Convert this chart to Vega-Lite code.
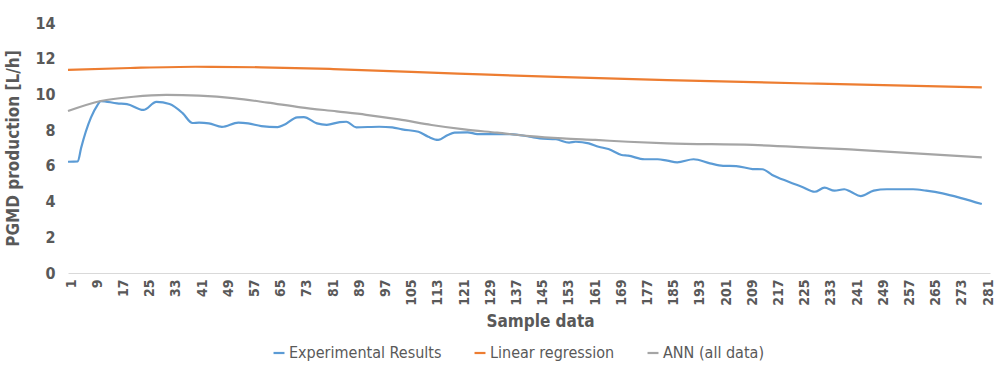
{
  "$schema": "https://vega.github.io/schema/vega-lite/v6.json",
  "width": 922,
  "height": 250,
  "autosize": {"type": "none"},
  "padding": {"left": 68, "top": 23, "right": 10, "bottom": 92},
  "background": "white",
  "config": {
    "view": {"stroke": null},
    "font": "Liberation Sans Narrow, DejaVu Sans Condensed, sans-serif"
  },
  "data": {
    "values": [
      {"s": 1, "v": 6.23, "series": "Experimental Results"},
      {"s": 4, "v": 6.25, "series": "Experimental Results"},
      {"s": 5, "v": 7.0, "series": "Experimental Results"},
      {"s": 8, "v": 8.7, "series": "Experimental Results"},
      {"s": 10, "v": 9.4, "series": "Experimental Results"},
      {"s": 11, "v": 9.63, "series": "Experimental Results"},
      {"s": 16, "v": 9.5, "series": "Experimental Results"},
      {"s": 19, "v": 9.46, "series": "Experimental Results"},
      {"s": 24, "v": 9.13, "series": "Experimental Results"},
      {"s": 28, "v": 9.58, "series": "Experimental Results"},
      {"s": 32, "v": 9.46, "series": "Experimental Results"},
      {"s": 36, "v": 8.95, "series": "Experimental Results"},
      {"s": 39, "v": 8.4, "series": "Experimental Results"},
      {"s": 41, "v": 8.42, "series": "Experimental Results"},
      {"s": 44, "v": 8.38, "series": "Experimental Results"},
      {"s": 48, "v": 8.18, "series": "Experimental Results"},
      {"s": 53, "v": 8.42, "series": "Experimental Results"},
      {"s": 56, "v": 8.38, "series": "Experimental Results"},
      {"s": 60, "v": 8.23, "series": "Experimental Results"},
      {"s": 65, "v": 8.17, "series": "Experimental Results"},
      {"s": 67, "v": 8.3, "series": "Experimental Results"},
      {"s": 71, "v": 8.72, "series": "Experimental Results"},
      {"s": 73, "v": 8.73, "series": "Experimental Results"},
      {"s": 77, "v": 8.38, "series": "Experimental Results"},
      {"s": 80, "v": 8.3, "series": "Experimental Results"},
      {"s": 84, "v": 8.45, "series": "Experimental Results"},
      {"s": 86, "v": 8.47, "series": "Experimental Results"},
      {"s": 89, "v": 8.16, "series": "Experimental Results"},
      {"s": 96, "v": 8.19, "series": "Experimental Results"},
      {"s": 100, "v": 8.16, "series": "Experimental Results"},
      {"s": 103, "v": 8.04, "series": "Experimental Results"},
      {"s": 108, "v": 7.91, "series": "Experimental Results"},
      {"s": 111, "v": 7.63, "series": "Experimental Results"},
      {"s": 114, "v": 7.45, "series": "Experimental Results"},
      {"s": 117, "v": 7.73, "series": "Experimental Results"},
      {"s": 119, "v": 7.86, "series": "Experimental Results"},
      {"s": 123, "v": 7.88, "series": "Experimental Results"},
      {"s": 126, "v": 7.78, "series": "Experimental Results"},
      {"s": 132, "v": 7.78, "series": "Experimental Results"},
      {"s": 136, "v": 7.78, "series": "Experimental Results"},
      {"s": 142, "v": 7.63, "series": "Experimental Results"},
      {"s": 145, "v": 7.54, "series": "Experimental Results"},
      {"s": 150, "v": 7.49, "series": "Experimental Results"},
      {"s": 154, "v": 7.3, "series": "Experimental Results"},
      {"s": 156, "v": 7.35, "series": "Experimental Results"},
      {"s": 160, "v": 7.26, "series": "Experimental Results"},
      {"s": 163, "v": 7.07, "series": "Experimental Results"},
      {"s": 166, "v": 6.94, "series": "Experimental Results"},
      {"s": 170, "v": 6.61, "series": "Experimental Results"},
      {"s": 172, "v": 6.57, "series": "Experimental Results"},
      {"s": 177, "v": 6.37, "series": "Experimental Results"},
      {"s": 181, "v": 6.37, "series": "Experimental Results"},
      {"s": 184, "v": 6.29, "series": "Experimental Results"},
      {"s": 187, "v": 6.2, "series": "Experimental Results"},
      {"s": 192, "v": 6.37, "series": "Experimental Results"},
      {"s": 197, "v": 6.14, "series": "Experimental Results"},
      {"s": 201, "v": 6.0, "series": "Experimental Results"},
      {"s": 205, "v": 5.99, "series": "Experimental Results"},
      {"s": 210, "v": 5.82, "series": "Experimental Results"},
      {"s": 213, "v": 5.81, "series": "Experimental Results"},
      {"s": 216, "v": 5.49, "series": "Experimental Results"},
      {"s": 221, "v": 5.11, "series": "Experimental Results"},
      {"s": 225, "v": 4.83, "series": "Experimental Results"},
      {"s": 229, "v": 4.55, "series": "Experimental Results"},
      {"s": 232, "v": 4.78, "series": "Experimental Results"},
      {"s": 235, "v": 4.61, "series": "Experimental Results"},
      {"s": 238, "v": 4.69, "series": "Experimental Results"},
      {"s": 240, "v": 4.55, "series": "Experimental Results"},
      {"s": 243, "v": 4.31, "series": "Experimental Results"},
      {"s": 247, "v": 4.61, "series": "Experimental Results"},
      {"s": 251, "v": 4.69, "series": "Experimental Results"},
      {"s": 259, "v": 4.69, "series": "Experimental Results"},
      {"s": 263, "v": 4.61, "series": "Experimental Results"},
      {"s": 268, "v": 4.46, "series": "Experimental Results"},
      {"s": 274, "v": 4.18, "series": "Experimental Results"},
      {"s": 280, "v": 3.86, "series": "Experimental Results"},
      {"s": 1, "v": 11.37, "series": "Linear regression"},
      {"s": 20, "v": 11.48, "series": "Linear regression"},
      {"s": 40, "v": 11.55, "series": "Linear regression"},
      {"s": 60, "v": 11.52, "series": "Linear regression"},
      {"s": 82, "v": 11.42, "series": "Linear regression"},
      {"s": 120, "v": 11.17, "series": "Linear regression"},
      {"s": 150, "v": 10.98, "series": "Linear regression"},
      {"s": 184, "v": 10.8, "series": "Linear regression"},
      {"s": 230, "v": 10.6, "series": "Linear regression"},
      {"s": 280, "v": 10.4, "series": "Linear regression"},
      {"s": 1, "v": 9.07, "series": "ANN (all data)"},
      {"s": 11, "v": 9.63, "series": "ANN (all data)"},
      {"s": 21, "v": 9.87, "series": "ANN (all data)"},
      {"s": 31, "v": 9.97, "series": "ANN (all data)"},
      {"s": 41, "v": 9.93, "series": "ANN (all data)"},
      {"s": 52, "v": 9.78, "series": "ANN (all data)"},
      {"s": 62, "v": 9.54, "series": "ANN (all data)"},
      {"s": 72, "v": 9.28, "series": "ANN (all data)"},
      {"s": 83, "v": 9.05, "series": "ANN (all data)"},
      {"s": 92, "v": 8.86, "series": "ANN (all data)"},
      {"s": 102, "v": 8.6, "series": "ANN (all data)"},
      {"s": 112, "v": 8.29, "series": "ANN (all data)"},
      {"s": 122, "v": 8.04, "series": "ANN (all data)"},
      {"s": 132, "v": 7.86, "series": "ANN (all data)"},
      {"s": 142, "v": 7.67, "series": "ANN (all data)"},
      {"s": 152, "v": 7.54, "series": "ANN (all data)"},
      {"s": 162, "v": 7.45, "series": "ANN (all data)"},
      {"s": 172, "v": 7.35, "series": "ANN (all data)"},
      {"s": 184, "v": 7.26, "series": "ANN (all data)"},
      {"s": 210, "v": 7.17, "series": "ANN (all data)"},
      {"s": 242, "v": 6.89, "series": "ANN (all data)"},
      {"s": 280, "v": 6.48, "series": "ANN (all data)"}
    ]
  },
  "mark": {"type": "line", "strokeWidth": 2.2, "interpolate": "monotone"},
  "encoding": {
    "x": {
      "field": "s",
      "type": "quantitative",
      "scale": {"domain": [1, 282.5], "nice": false, "zero": false},
      "axis": {
        "title": "Sample data",
        "titleFontSize": 17,
        "titleFontWeight": "bold",
        "titleColor": "#595959",
        "titlePadding": 8,
        "titleX": 472,
        "values": [1, 9, 17, 25, 33, 41, 49, 57, 65, 73, 81, 89, 97, 105, 113, 121, 129, 137, 145, 153, 161, 169, 177, 185, 193, 201, 209, 217, 225, 233, 241, 249, 257, 265, 273, 281],
        "labelAngle": -90,
        "labelAlign": "right",
        "labelBaseline": "middle",
        "labelFontSize": 14,
        "labelFontWeight": "bold",
        "labelColor": "#595959",
        "labelPadding": 6,
        "labelOverlap": false,
        "labelFlush": false,
        "labelOffset": 3,
        "ticks": false,
        "grid": false,
        "domainColor": "#d9d9d9",
        "domainWidth": 1
      }
    },
    "y": {
      "field": "v",
      "type": "quantitative",
      "scale": {"domain": [0, 14], "nice": false},
      "axis": {
        "title": "PGMD production [L/h]",
        "titleFontSize": 17,
        "titleFontWeight": "bold",
        "titleColor": "#595959",
        "titlePadding": 12,
        "values": [0, 2, 4, 6, 8, 10, 12, 14],
        "labelFontSize": 16,
        "labelFontWeight": "bold",
        "labelColor": "#595959",
        "labelPadding": 13,
        "ticks": false,
        "grid": false,
        "domain": false
      }
    },
    "color": {
      "field": "series",
      "type": "nominal",
      "scale": {
        "domain": ["Experimental Results", "Linear regression", "ANN (all data)"],
        "range": ["#5B9BD5", "#ED7D31", "#A5A5A5"]
      },
      "legend": {
        "title": null,
        "orient": "none",
        "direction": "horizontal",
        "legendX": 203,
        "legendY": 322,
        "symbolType": "stroke",
        "symbolSize": 120,
        "symbolStrokeWidth": 2.2,
        "labelFontSize": 16,
        "labelLimit": 400,
        "labelColor": "#595959",
        "labelFont": "Liberation Sans Narrow, DejaVu Sans Condensed, sans-serif",
        "labelOffset": 2,
        "columnPadding": 28
      }
    }
  }
}
